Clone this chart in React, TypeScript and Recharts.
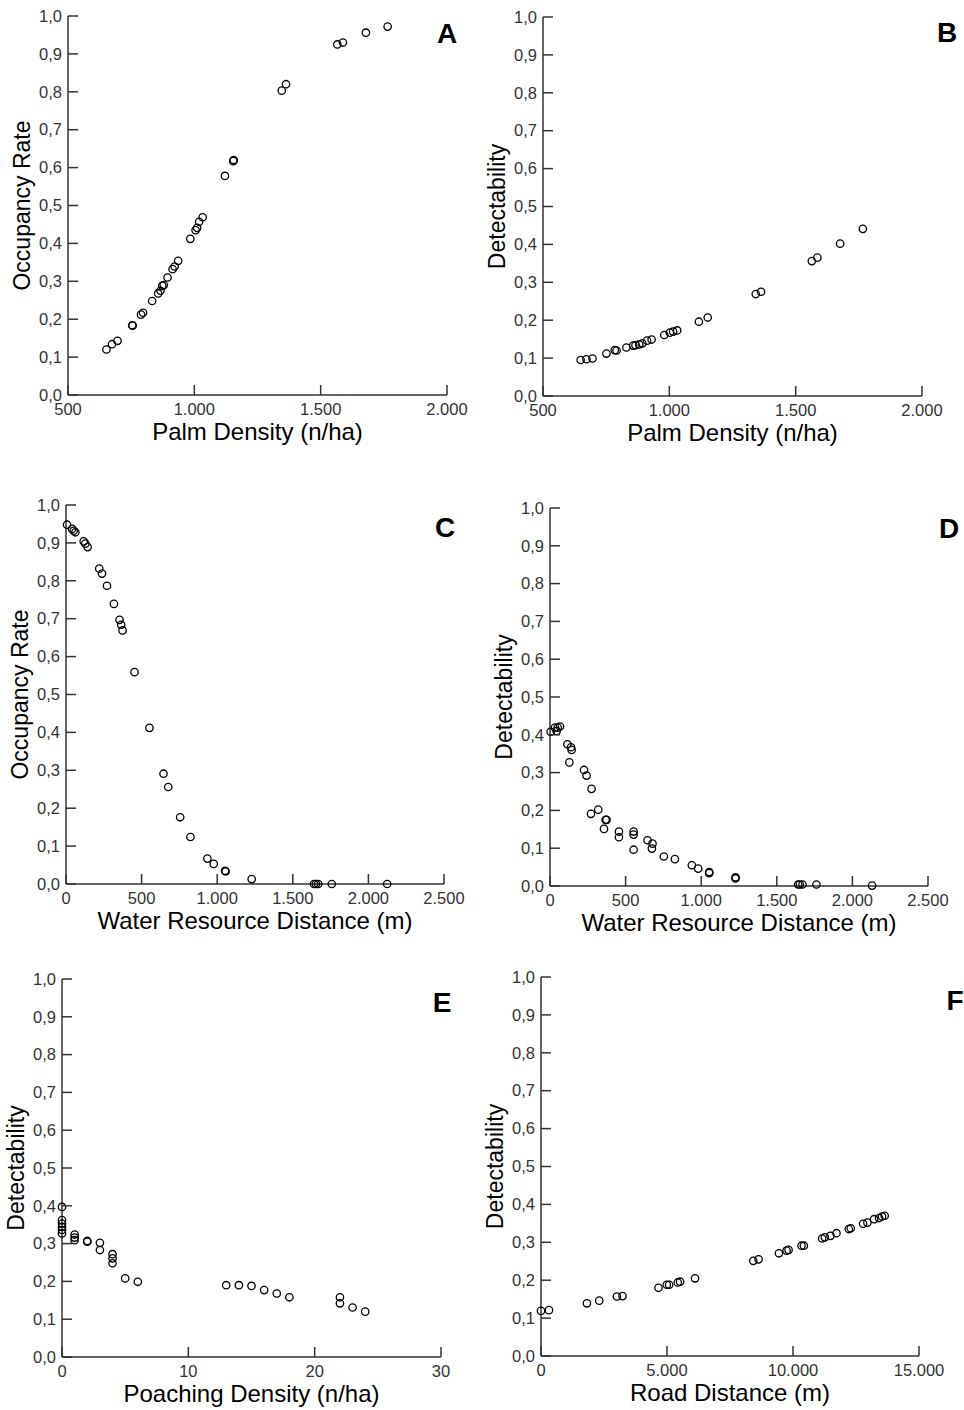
import React from "react"
import { ScatterChart, Scatter, XAxis, YAxis } from "recharts"

// tick values
const yTicks = [0, 0.1, 0.2, 0.3, 0.4, 0.5, 0.6, 0.7, 0.8, 0.9, 1]
const palmTicks = [500, 1000, 1500, 2000]
const waterTicks = [0, 500, 1000, 1500, 2000, 2500]
const poachTicks = [0, 10, 20, 30]
const roadTicks = [0, 5000, 10000, 15000]

// A - occupancy vs palm density
const palmA = [652, 674, 696, 754, 756, 789, 797, 833, 857, 866, 873, 879, 894, 914, 922, 936, 984, 1005, 1011, 1019, 1033, 1121, 1154, 1156, 1346, 1363, 1566, 1588, 1679, 1765]
const occupancyA = [0.12, 0.134, 0.143, 0.184, 0.183, 0.212, 0.217, 0.248, 0.268, 0.275, 0.288, 0.29, 0.31, 0.332, 0.339, 0.354, 0.412, 0.435, 0.441, 0.457, 0.469, 0.578, 0.617, 0.62, 0.803, 0.82, 0.925, 0.93, 0.956, 0.972]

// B - detectability vs palm density
const palmB = [649, 672, 696, 751, 784, 791, 830, 857, 866, 881, 893, 912, 930, 980, 1002, 1015, 1031, 1117, 1152, 1342, 1363, 1564, 1586, 1676, 1766]
const detectB = [0.095, 0.097, 0.099, 0.112, 0.121, 0.12, 0.128, 0.133, 0.134, 0.136, 0.139, 0.146, 0.149, 0.161, 0.167, 0.17, 0.173, 0.196, 0.207, 0.269, 0.275, 0.356, 0.365, 0.402, 0.441]

// C - occupancy vs water distance
const waterC = [7, 40, 51, 62, 117, 128, 143, 220, 238, 271, 317, 354, 365, 374, 453, 552, 645, 676, 755, 823, 935, 977, 1052, 1056, 1228, 1640, 1653, 1668, 1758, 2124]
const occupancyC = [0.948, 0.937, 0.932, 0.928, 0.904, 0.898, 0.889, 0.832, 0.819, 0.787, 0.739, 0.697, 0.684, 0.669, 0.559, 0.412, 0.291, 0.256, 0.176, 0.124, 0.067, 0.053, 0.035, 0.033, 0.013, 0, 0, 0, 0, 0]

// D - detectability vs water distance
const waterD = [4, 33, 44, 51, 66, 115, 128, 139, 143, 225, 242, 275, 271, 319, 357, 368, 374, 456, 456, 553, 553, 553, 645, 674, 678, 753, 826, 938, 980, 1053, 1053, 1227, 1227, 1641, 1652, 1670, 1762, 2130]
const detectD = [0.408, 0.419, 0.41, 0.419, 0.422, 0.375, 0.327, 0.367, 0.36, 0.307, 0.292, 0.257, 0.191, 0.202, 0.151, 0.175, 0.175, 0.144, 0.129, 0.144, 0.136, 0.096, 0.121, 0.099, 0.112, 0.078, 0.071, 0.055, 0.046, 0.037, 0.034, 0.023, 0.02, 0.004, 0.004, 0.004, 0.004, 0.001]

// E - detectability vs poaching density
const poachE = [0, 0, 0, 0, 0, 0, 1, 1, 1, 2, 2, 3, 3, 4, 4, 4, 5, 6, 13, 14, 15, 16, 17, 18, 22, 22, 23, 24]
const detectE = [0.397, 0.362, 0.353, 0.344, 0.336, 0.327, 0.324, 0.316, 0.309, 0.307, 0.305, 0.302, 0.283, 0.272, 0.261, 0.248, 0.208, 0.199, 0.19, 0.19, 0.188, 0.177, 0.168, 0.158, 0.158, 0.142, 0.131, 0.12]

// F - detectability vs road distance
const roadF = [0, 317, 1822, 2311, 3011, 3235, 4661, 4991, 5084, 5427, 5519, 6113, 8424, 8635, 9441, 9745, 9824, 10339, 10431, 11157, 11263, 11487, 11725, 12214, 12293, 12782, 12953, 13217, 13416, 13534, 13640]
const detectF = [0.119, 0.121, 0.139, 0.146, 0.157, 0.158, 0.18, 0.188, 0.188, 0.194, 0.196, 0.205, 0.251, 0.255, 0.271, 0.278, 0.28, 0.291, 0.291, 0.31, 0.313, 0.317, 0.324, 0.335, 0.337, 0.349, 0.352, 0.361, 0.364, 0.368, 0.37]

const zip = (xs: number[], ys: number[]) => xs.map((x, i) => ({ x, y: ys[i] }))

const FONT = '"Liberation Sans", Arial, sans-serif'
const AXIS = "#333"

const fmtX = (v: number) => String(v).replace(/\B(?=(\d{3})+(?!\d))/g, ".")
const fmtY = (v: number) => v.toFixed(1).replace(".", ",")

const XTick = (props: any) => {
  const { x, y, payload } = props
  return (
    <g>
      <line x1={x} x2={x} y1={y} y2={y - 10} stroke={AXIS} strokeWidth={1.5} />
      <text x={x} y={y + 20} textAnchor="middle" fontSize={16.5} fill="#333" fontFamily={FONT}>
        {fmtX(payload.value)}
      </text>
    </g>
  )
}

const YTick = (props: any) => {
  const { x, y, payload } = props
  return (
    <g>
      <line x1={x} x2={x + 10} y1={y} y2={y} stroke={AXIS} strokeWidth={1.5} />
      <text x={x - 6} y={y} dy="0.35em" textAnchor="end" fontSize={16.5} fill="#333" fontFamily={FONT}>
        {fmtY(payload.value)}
      </text>
    </g>
  )
}

const Dot = (props: any) => (
  <circle cx={props.cx} cy={props.cy} r={3.7} fill="none" stroke="#000" strokeWidth={1.3} />
)

interface PanelProps {
  data: { x: number; y: number }[]
  xTicks: number[]
  xLabel: string
  yLabel: string
  left: number
  top: number
  w: number
  h: number
}

function Panel({ data, xTicks, xLabel, yLabel, left, top, w, h }: PanelProps) {
  return (
    <div style={{ position: "absolute", left: left - 70, top: top - 20 }}>
      <ScatterChart width={w + 115} height={h + 80} margin={{ top: 20, right: 45, bottom: 0, left: 0 }}>
        <XAxis
          type="number"
          dataKey="x"
          domain={[xTicks[0], xTicks[xTicks.length - 1]]}
          ticks={xTicks}
          interval={0}
          height={60}
          tickSize={0}
          tickMargin={0}
          tickLine={false}
          axisLine={{ stroke: AXIS, strokeWidth: 1.5 }}
          tick={XTick}
          label={{ value: xLabel, position: "insideBottom", offset: 15, fill: "#000", fontSize: 24, fontFamily: FONT }}
        />
        <YAxis
          type="number"
          dataKey="y"
          domain={[0, 1]}
          ticks={yTicks}
          interval={0}
          width={70}
          tickSize={0}
          tickMargin={0}
          tickLine={false}
          axisLine={{ stroke: AXIS, strokeWidth: 1.5 }}
          tick={YTick}
          label={{
            value: yLabel,
            angle: -90,
            position: "insideLeft",
            offset: 24,
            style: { textAnchor: "middle" },
            fill: "#000",
            fontSize: 23,
            fontFamily: FONT,
          }}
        />
        <Scatter data={data} shape={Dot} isAnimationActive={false} />
      </ScatterChart>
    </div>
  )
}

const letters = [
  { t: "A", x: 447, y: 43 },
  { t: "B", x: 947, y: 42 },
  { t: "C", x: 445, y: 537 },
  { t: "D", x: 949, y: 538 },
  { t: "E", x: 442, y: 1012 },
  { t: "F", x: 955, y: 1010 },
]

export default function App() {
  return (
    <div style={{ position: "absolute", left: 0, top: 0, width: 964, height: 1410, background: "#fff", fontFamily: FONT, overflow: "hidden" }}>
      <Panel data={zip(palmA, occupancyA)} xTicks={palmTicks} xLabel="Palm Density (n/ha)" yLabel="Occupancy Rate" left={68} top={16} w={379} h={379} />
      <Panel data={zip(palmB, detectB)} xTicks={palmTicks} xLabel="Palm Density (n/ha)" yLabel="Detectability" left={543} top={17} w={379} h={379} />
      <Panel data={zip(waterC, occupancyC)} xTicks={waterTicks} xLabel="Water Resource Distance (m)" yLabel="Occupancy Rate" left={66} top={505} w={378} h={379} />
      <Panel data={zip(waterD, detectD)} xTicks={waterTicks} xLabel="Water Resource Distance (m)" yLabel="Detectability" left={550} top={508} w={378} h={378} />
      <Panel data={zip(poachE, detectE)} xTicks={poachTicks} xLabel="Poaching Density (n/ha)" yLabel="Detectability" left={62} top={979} w={379} h={378} />
      <Panel data={zip(roadF, detectF)} xTicks={roadTicks} xLabel="Road Distance (m)" yLabel="Detectability" left={541} top={977} w={378} h={379} />
      <svg width={964} height={1410} style={{ position: "absolute", left: 0, top: 0, pointerEvents: "none" }}>
        {letters.map((l) => (
          <text key={l.t} x={l.x} y={l.y} textAnchor="middle" fontSize={28} fontWeight="bold" fontFamily={FONT} fill="#000">
            {l.t}
          </text>
        ))}
      </svg>
    </div>
  )
}
